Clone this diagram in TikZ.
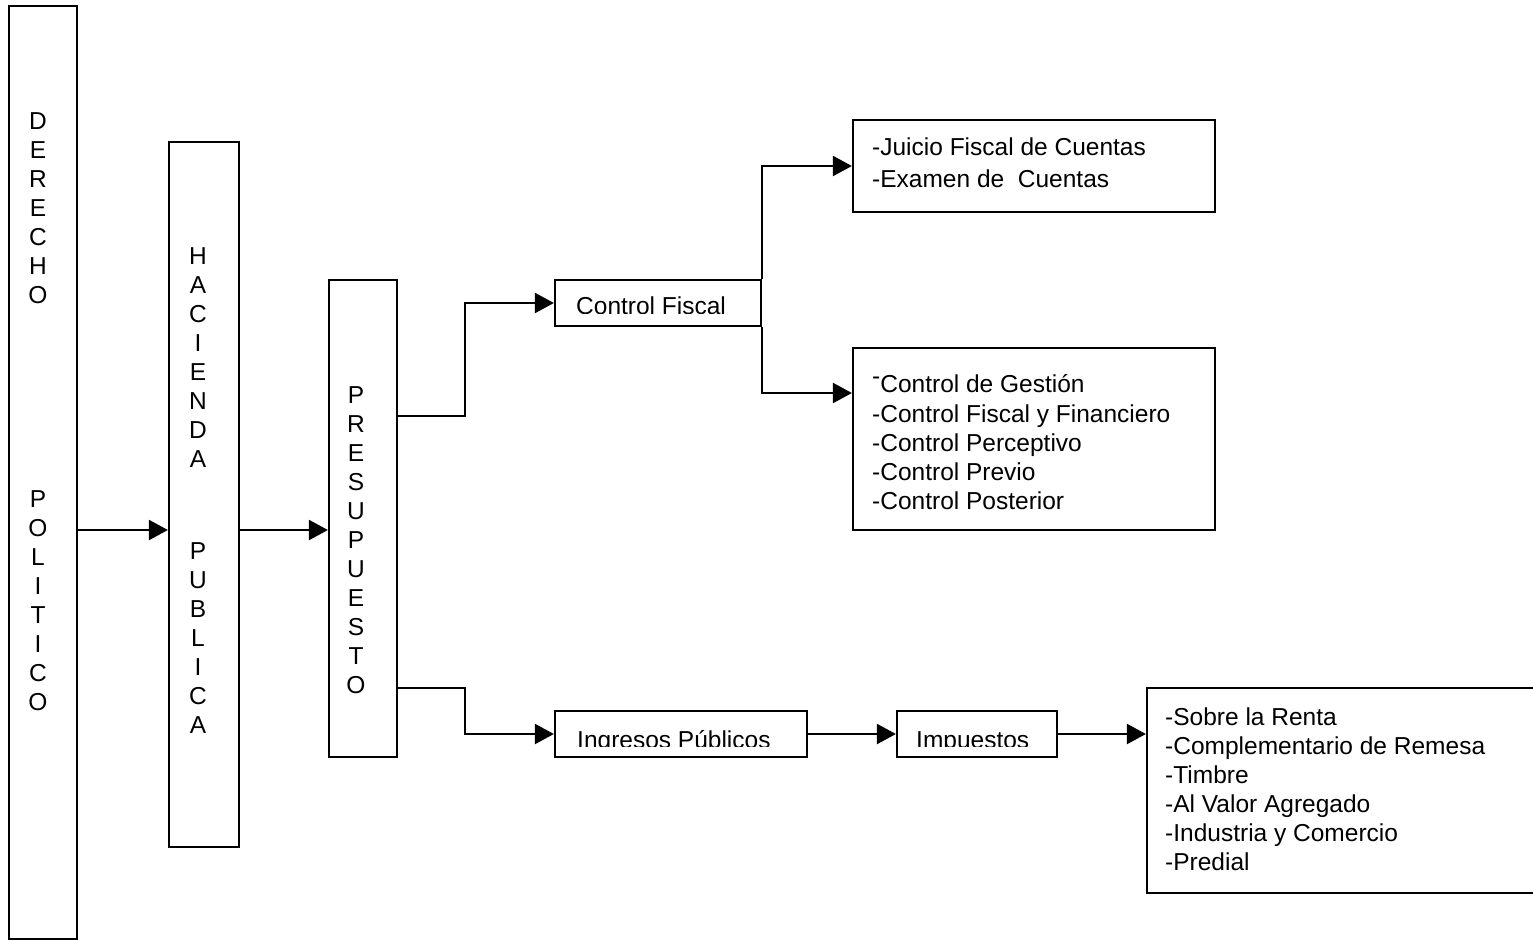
\documentclass[tikz,border=0pt]{standalone}
\usepackage{fontspec}
\setmainfont{Liberation Sans}
\usetikzlibrary{arrows.meta}
\begin{document}
\begin{tikzpicture}[x=1pt,y=-1pt,
  box/.style={draw, line width=2.2pt, inner sep=0pt},
  lbl/.style={inner sep=0pt, font=\fontsize{24.5}{29}\selectfont},
  stack/.style={lbl, align=center, anchor=north},
  line/.style={lbl, anchor=base west},
  arr/.style={line width=2.2pt, -{Triangle[length=19pt,width=20pt]}}]
\fill[white] (0,0) rectangle (1533,940);
\useasboundingbox (0,0) rectangle (1533,940);

% boxes
\node[box, minimum width=68pt, minimum height=933pt] (der) at (43,472.5) {};
\node[box, minimum width=70pt, minimum height=705pt] (hac) at (204,494.5) {};
\node[box, minimum width=68pt, minimum height=477pt] (pre) at (363,518.5) {};
\node[box, minimum width=206pt, minimum height=46pt] (cf) at (658,303) {};
\node[box, minimum width=362pt, minimum height=92pt] (tb) at (1034,166) {};
\node[box, minimum width=362pt, minimum height=182pt] (mb) at (1034,439) {};
\node[box, minimum width=252pt, minimum height=46pt] (ing) at (681,734) {};
\node[box, minimum width=160pt, minimum height=46pt] (imp) at (977,734) {};
\node[box, minimum width=398pt, minimum height=205pt] (br) at (1346,790.5) {};

% vertical letter stacks
\node[stack] (dert) at (38,112) {D\\E\\R\\E\\C\\H\\O\\[175pt]P\\O\\L\\I\\T\\I\\C\\O};
\node[stack] (hact) at (198,247) {H\\A\\C\\I\\E\\N\\D\\A\\[63pt]P\\U\\B\\L\\I\\C\\A};
\node[stack] (pret) at (356,386) {P\\R\\E\\S\\U\\P\\U\\E\\S\\T\\O};

% clipped single labels
\begin{scope}
\clip (555,280) rectangle (761,313);
\node[line] (cft) at (576,314) {Control Fiscal};
\end{scope}
\begin{scope}
\clip (555,711) rectangle (807,746);
\node[line] (ingt) at (577,748) {Ingresos Públicos};
\end{scope}
\begin{scope}
\clip (897,711) rectangle (1057,746);
\node[line] (impt) at (916,748) {Impuestos};
\end{scope}

% lists
\node[line] (tb1) at (872,155) {-Juicio Fiscal de Cuentas};
\node[line] (tb2) at (872,187) {-Examen de\ \ Cuentas};

\node[line] (mb1) at (872,392) {\raisebox{8pt}{-}Control de Gestión};
\node[line] (mb2) at (872,422) {-Control Fiscal y Financiero};
\node[line] (mb3) at (872,451) {-Control Perceptivo};
\node[line] (mb4) at (872,480) {-Control Previo};
\node[line] (mb5) at (872,509) {-Control Posterior};

\node[line] (br1) at (1165,725) {-Sobre la Renta};
\node[line] (br2) at (1165,754) {-Complementario de Remesa};
\node[line] (br3) at (1165,783) {-Timbre};
\node[line] (br4) at (1165,812) {-Al Valor Agregado};
\node[line] (br5) at (1165,841) {-Industria y Comercio};
\node[line] (br6) at (1165,870) {-Predial};

% connectors
\coordinate (r1) at (0,530);
\coordinate (b1) at (0,416);
\coordinate (b2) at (0,688);
\coordinate (jx) at (465,0);
\coordinate (a2) at (0,393);
\draw[arr] (der.east |- r1) -- (hac.west |- r1);
\draw[arr] ([xshift=-2pt]hac.east |- r1) -- (pre.west |- r1);
\draw[arr] (pre.east |- b1) -| (jx |- cf.west) -- (cf.west);
\draw[arr] (pre.east |- b2) -| (jx |- ing.west) -- (ing.west);
\draw[arr] (cf.north east) |- (tb.west);
\draw[arr] (cf.south east) |- (mb.west |- a2);
\draw[arr] (ing.east) -- (imp.west);
\draw[arr] (imp.east) -- (br.west |- imp.east);
\end{tikzpicture}
\end{document}
